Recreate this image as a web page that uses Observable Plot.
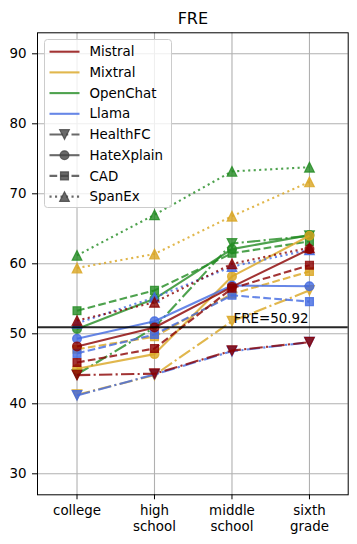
<!DOCTYPE html>
<html><head><meta charset="utf-8">
<script src="https://cdn.jsdelivr.net/npm/d3@7"></script>
<script src="https://cdn.jsdelivr.net/npm/@observablehq/plot@0.6"></script>
<style>
body{margin:0;background:#fff;}
#chart{width:357px;height:544px;}
</style>
</head><body><div id="chart"></div>
<script>
const xTickLabels = ["college", "high\nschool", "middle\nschool", "sixth\ngrade"];
const yTicks = [30, 40, 50, 60, 70, 80, 90];
const modelNames = ["Mistral", "Mixtral", "OpenChat", "Llama"];
const modelColors = ["#8b0000", "#daa520", "#228b22", "#4169e1"];
const datasetNames = ["HealthFC", "HateXplain", "CAD", "SpanEx"];
const threshold = 50.92;
const thresholdLabel = "FRE=50.92";
const title = "FRE";

const mistralHealthFC   = [44.1, 44.3, 47.6, 48.8];
const mistralHateXplain = [48.2, 50.9, 56.7, 62.1];
const mistralCAD        = [45.9, 47.9, 56.5, 59.8];
const mistralSpanEx     = [51.9, 54.5, 60.0, 62.3];
const mixtralHealthFC   = [41.3, 44.1, 51.8, 56.2];
const mixtralHateXplain = [45.0, 47.1, 58.2, 64.0];
const mixtralCAD        = [47.8, 49.6, 55.7, 58.9];
const mixtralSpanEx     = [59.4, 61.4, 66.8, 71.7];
const openchatHealthFC   = [44.2, 50.9, 62.9, 64.0];
const openchatHateXplain = [50.7, 55.0, 62.1, 64.1];
const openchatCAD        = [53.3, 56.2, 61.5, 63.2];
const openchatSpanEx     = [61.2, 67.0, 73.2, 73.8];
const llamaHealthFC   = [41.2, 44.2, 47.5, 48.8];
const llamaHateXplain = [49.3, 51.8, 56.9, 56.8];
const llamaCAD        = [47.2, 49.9, 55.5, 54.6];
const llamaSpanEx     = [51.5, 55.2, 59.6, 62.0];

const seriesTable = {
  Mistral: [mistralHealthFC, mistralHateXplain, mistralCAD, mistralSpanEx],
  Mixtral: [mixtralHealthFC, mixtralHateXplain, mixtralCAD, mixtralSpanEx],
  OpenChat: [openchatHealthFC, openchatHateXplain, openchatCAD, openchatSpanEx],
  Llama: [llamaHealthFC, llamaHateXplain, llamaCAD, llamaSpanEx]
};
const drawOrder = ["OpenChat", "Mixtral", "Llama", "Mistral"];

// styles
const dashes = ["13.3,3.3,2.1,3.3", null, "7.7,3.3", "2.1,3.4"];
const triDown = {draw(ctx, size){const r=Math.sqrt(size/Math.PI)*1.1; ctx.moveTo(0,r); ctx.lineTo(-r,-r); ctx.lineTo(r,-r); ctx.closePath();}};
const triUp = {draw(ctx, size){const r=Math.sqrt(size/Math.PI)*1.1; ctx.moveTo(0,-r); ctx.lineTo(-r,r); ctx.lineTo(r,r); ctx.closePath();}};
const sq = {draw(ctx, size){const r=Math.sqrt(size/Math.PI)*0.9; ctx.rect(-r,-r,2*r,2*r);}};
const circ = {draw(ctx, size){const r=Math.sqrt(size/Math.PI); ctx.moveTo(r,0); ctx.arc(0,0,r,0,2*Math.PI);}};
const symbols = [triDown, circ, sq, triUp];

const marks = [
  Plot.gridX([0,1,2,3], {stroke: "#b0b0b0", strokeOpacity: 1, strokeWidth: 1.1}),
  Plot.gridY(yTicks, {stroke: "#b0b0b0", strokeOpacity: 1, strokeWidth: 1.1}),
  Plot.axisX({ticks: [0,1,2,3], tickFormat: i => xTickLabels[i], tickSize: 5, tickPadding: 4, fontSize: 13.4, lineHeight: 1.2, label: null}),
  Plot.axisY({ticks: yTicks, tickSize: 5, tickPadding: 6, fontSize: 13.4, label: null}),
];
for (const m of drawOrder) {
  const ci = modelNames.indexOf(m);
  const color = modelColors[ci];
  seriesTable[m].forEach((vals, di) => {
    const rows = vals.map((v, i) => ({x: i, y: v}));
    marks.push(Plot.line(rows, {x: "x", y: "y", stroke: color, strokeOpacity: 0.8, strokeWidth: 2.1,
      strokeDasharray: dashes[di] ?? undefined, strokeLinecap: "butt", strokeLinejoin: "round"}));
    marks.push(Plot.dot(rows, {x: "x", y: "y", symbol: symbols[di], r: 4.4, fill: color, fillOpacity: 0.8,
      stroke: color, strokeOpacity: 0.8, strokeWidth: 1.2}));
  });
}
marks.push(Plot.ruleY([threshold], {stroke: "black", strokeOpacity: 0.85, strokeWidth: 2}));
marks.push(Plot.text([thresholdLabel], {x: 2, y: threshold, text: d => d, textAnchor: "start", lineAnchor: "middle", dx: 1.5, dy: -9, fontSize: 13.4, fill: "black"}));
marks.push(Plot.text([title], {frameAnchor: "top", text: d => d, lineAnchor: "middle", dy: -14, fontSize: 16, fill: "black"}));
marks.push(Plot.frame({stroke: "black", strokeWidth: 1}));

const svg = Plot.plot({
  width: 357, height: 544,
  marginLeft: 37, marginRight: 9.3, marginTop: 32.3, marginBottom: 49.7,
  x: {type: "linear", domain: [-0.51, 3.5]},
  y: {domain: [27, 93]},
  style: {fontFamily: "DejaVu Sans", fontSize: "13.4px", color: "black", background: "white", overflow: "visible"},
  marks
});
document.getElementById("chart").appendChild(svg);

// legend (inside axes, upper left)
const lg = d3.select(svg).append("g").attr("font-family", "DejaVu Sans").attr("font-size", 13.4).attr("text-anchor", "start");
lg.append("rect").attr("x", 44.5).attr("y", 39.5).attr("width", 127).attr("height", 168).attr("rx", 3)
  .attr("fill", "white").attr("fill-opacity", 0.8).attr("stroke", "#cccccc");
const legendItems = [
  ...modelNames.map((n, i) => ({label: n, color: modelColors[i], dash: null, sym: null})),
  ...datasetNames.map((n, i) => ({label: n, color: "#444", dash: dashes[i], sym: symbols[i]}))
];
legendItems.forEach((it, k) => {
  const y = 51.7 + k * 20.7;
  lg.append("line").attr("x1", 49.5).attr("x2", 79.5).attr("y1", y).attr("y2", y)
    .attr("stroke", it.color).attr("stroke-opacity", 0.8).attr("stroke-width", 2.1)
    .attr("stroke-dasharray", it.dash);
  if (it.sym) {
    lg.append("path").attr("transform", `translate(64.5,${y})`).attr("d", d3.symbol(it.sym, Math.PI*4.4*4.4)())
      .attr("fill", it.color).attr("fill-opacity", 0.8).attr("stroke", it.color).attr("stroke-opacity", 0.8).attr("stroke-width", 1.2);
  }
  lg.append("text").attr("x", 89.5).attr("y", y).attr("dy", "0.35em").attr("text-anchor", "start").attr("fill", "black").text(it.label);
});
</script>
</body></html>
